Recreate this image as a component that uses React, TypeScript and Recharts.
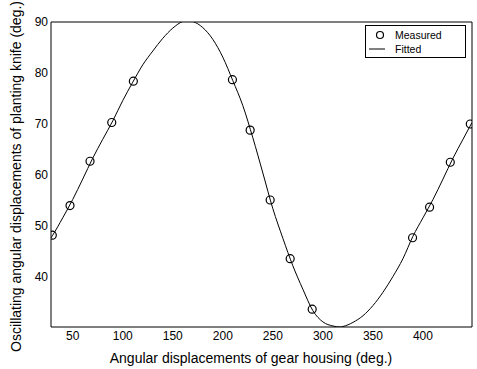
import {
  ComposedChart,
  Line,
  Scatter,
  XAxis,
  YAxis,
  Legend,
  Customized,
} from "recharts";

// measured points (gear housing angle, knife angle)
const measuredX = [29.6, 47.3, 67.3, 89, 110.6, 209.6, 227.3, 247.3, 267.3, 289.3, 389.6, 406.6, 427.3, 447.3];
const measuredY = [48.2, 54.0, 62.7, 70.3, 78.4, 78.7, 68.8, 55.1, 43.6, 33.7, 47.7, 53.7, 62.5, 70.0];

// fitted curve
const fittedX = [
  28, 30, 40, 50, 60, 70, 80, 90, 100, 110, 120, 130, 140, 150, 160, 165, 170, 180, 190, 200, 210, 220, 230, 240, 250,
  260, 270, 280, 290, 300, 310, 317, 320, 330, 340, 350, 360, 370, 380, 390, 400, 410, 420, 430, 440, 449,
];
const fittedY = [
  47.6, 48.2, 51.6, 55.2, 59.2, 63.3, 67.0, 70.6, 74.6, 78.2, 81.6, 84.3, 86.8, 88.8, 90.1, 90.3, 90.1, 88.9, 86.6, 83.1,
  78.5, 73.6, 67.3, 60.4, 53.4, 47.6, 42.2, 37.6, 33.4, 31.2, 30.4, 30.2, 30.3, 31.1, 32.4, 34.4, 37.0, 40.1, 43.6, 48.0,
  51.6, 55.2, 59.2, 63.3, 67.0, 70.3,
];

const xTicks = [50, 100, 150, 200, 250, 300, 350, 400];
const yTicks = [40, 50, 60, 70, 80, 90];
const xDomain = [28.3, 449];
const yDomain = [30.2, 90];

const xTitle = "Angular displacements of gear housing (deg.)";
const yTitle = "Oscillating angular displacements of planting knife (deg.)";

const measured = measuredX.map((x, i) => ({ x, y: measuredY[i] }));
const fitted = fittedX.map((x, i) => ({ x, y: fittedY[i] }));

const FONT = "'Liberation Sans', Arial, sans-serif";
const tickStyle = { fontSize: 12, fill: "#000", fontFamily: FONT };

function OpenCircle(props: any) {
  const { cx, cy } = props;
  if (cx == null || cy == null) return null;
  return <circle cx={cx} cy={cy} r={4} fill="none" stroke="#000" strokeWidth={1.2} />;
}

function LegendBox() {
  return (
    <div
      style={{
        width: 101,
        height: 33,
        boxSizing: "border-box",
        border: "1px solid #000",
        background: "#fff",
      }}
    >
      <svg width={99} height={31} style={{ display: "block" }}>
        <circle cx={14} cy={9} r={3.5} fill="none" stroke="#000" strokeWidth={1.2} />
        <text x={29} y={13} fontSize={10.5} fontFamily={FONT} fill="#000">
          Measured
        </text>
        <line x1={3} x2={19} y1={23} y2={23} stroke="#000" strokeWidth={1} />
        <text x={29} y={27} fontSize={10.5} fontFamily={FONT} fill="#000">
          Fitted
        </text>
      </svg>
    </div>
  );
}

function Titles() {
  return (
    <g fontFamily={FONT} fontSize={14} fill="#000">
      <text x={251} y={363} textAnchor="middle">
        {xTitle}
      </text>
      <text transform="translate(21,176.5) rotate(-90)" textAnchor="middle">
        {yTitle}
      </text>
    </g>
  );
}

export default function App() {
  return (
    <div style={{ position: "absolute", left: 0, top: 0, background: "#fff" }}>
      <ComposedChart width={477} height={369} margin={{ top: 22, right: 5, bottom: 0, left: 0 }}>
        <XAxis
          xAxisId="x"
          dataKey="x"
          type="number"
          domain={xDomain}
          ticks={xTicks}
          allowDataOverflow
          height={42}
          tickLine={false}
          tickSize={2}
          tickMargin={2}
          axisLine={{ stroke: "#000" }}
          tick={tickStyle}
        />
        <XAxis
          xAxisId="xb"
          dataKey="x"
          type="number"
          domain={xDomain}
          ticks={xTicks}
          allowDataOverflow
          height={1}
          mirror
          tick={false}
          tickSize={4}
          tickLine={{ stroke: "#000" }}
          axisLine={false}
        />
        <XAxis
          xAxisId="xt"
          dataKey="x"
          orientation="top"
          type="number"
          domain={xDomain}
          ticks={xTicks}
          allowDataOverflow
          height={1}
          mirror
          tick={false}
          tickSize={4}
          tickLine={{ stroke: "#000" }}
          axisLine={{ stroke: "#000" }}
        />
        <YAxis
          yAxisId="y"
          type="number"
          domain={yDomain}
          ticks={yTicks}
          allowDataOverflow
          width={51}
          tickLine={false}
          tickSize={1}
          tickMargin={2}
          axisLine={{ stroke: "#000" }}
          tick={tickStyle}
        />
        <YAxis
          yAxisId="yl"
          type="number"
          domain={yDomain}
          ticks={yTicks}
          allowDataOverflow
          width={1}
          mirror
          tick={false}
          tickSize={4}
          tickLine={{ stroke: "#000" }}
          axisLine={false}
        />
        <YAxis
          yAxisId="yr"
          orientation="right"
          type="number"
          domain={yDomain}
          ticks={yTicks}
          allowDataOverflow
          width={1}
          mirror
          tick={false}
          tickSize={4}
          tickLine={{ stroke: "#000" }}
          axisLine={{ stroke: "#000" }}
        />
        {/* invisible series so the frame axes get drawn */}
        <Line
          xAxisId="xb"
          yAxisId="yl"
          data={fitted}
          dataKey="y"
          stroke="none"
          dot={false}
          activeDot={false}
          legendType="none"
          isAnimationActive={false}
        />
        <Line
          xAxisId="xt"
          yAxisId="yr"
          data={fitted}
          dataKey="y"
          stroke="none"
          dot={false}
          activeDot={false}
          legendType="none"
          isAnimationActive={false}
        />
        <Line
          xAxisId="x"
          yAxisId="y"
          data={fitted}
          dataKey="y"
          name="Fitted"
          type="monotone"
          stroke="#000"
          strokeWidth={1}
          dot={false}
          activeDot={false}
          isAnimationActive={false}
        />
        <Scatter
          xAxisId="x"
          yAxisId="y"
          data={measured}
          dataKey="y"
          name="Measured"
          shape={OpenCircle}
          isAnimationActive={false}
        />
        <Legend
          verticalAlign="middle"
          layout="horizontal"
          wrapperStyle={{ top: 25, left: 365, width: 101, height: 33 }}
          content={() => <LegendBox />}
        />
        <Customized component={Titles} />
      </ComposedChart>
    </div>
  );
}
